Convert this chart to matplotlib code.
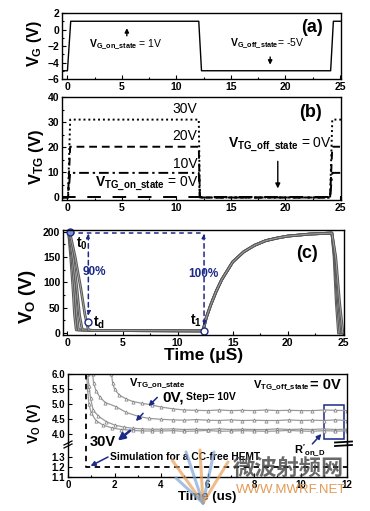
import matplotlib
matplotlib.use('Agg')
import matplotlib.pyplot as plt
from matplotlib.lines import Line2D
from matplotlib.patches import Rectangle
from matplotlib.ticker import MultipleLocator, FixedLocator

# ---- data ----
# (a) gate drive
t_vg = [-0.5, 0.0, 0.3, 12.05, 12.3, 24.15, 24.4, 25.1]
vg = [-5, -5, 1, 1, -5, -5, 1, 1]

# (b) top-gate drive for the four steps
t_vtg = [-0.5, 0.05, 0.25, 12.05, 12.15, 24.1, 24.3, 25.1]
vtg_30 = [0, 0, 31, 31, 0, 0, 31, 31]
vtg_20 = [0, 0, 20.2, 20.2, 0, 0, 20.2, 20.2]
vtg_10 = [0, 0, 9.8, 9.8, 0, 0, 9.8, 9.8]
vtg_0 = [0, 0, 0, 0, 0, 0, 0, 0]

# (c) output voltage: turn-off edges per step, common turn-on, final edges
fall_v = [200, 150, 90, 35, 6]
fall_t = {
    '30V': [0.1, 0.3, 0.5, 0.65, 0.8],
    '20V': [0.1, 0.4, 0.65, 0.85, 1.0],
    '10V': [0.15, 0.5, 0.85, 1.1, 1.35],
    '0V': [0.2, 0.7, 1.2, 1.6, 1.9],
}
t_flat = [2.3, 12.3]
v_flat = [5, 4]
t_rise = [12.6, 13.0, 13.5, 14.0, 15.0, 16.0, 17.0, 18.0, 19.0, 20.0, 21.0, 22.0, 23.0, 24.0]
v_rise = [30, 55, 82, 105, 140, 160, 173, 182, 187, 191, 193, 195, 196, 197]
end_v = [150, 60, 0]
end_t = {
    '30V': [24.2, 24.4, 24.6],
    '20V': [24.25, 24.5, 24.75],
    '10V': [24.3, 24.6, 24.9],
    '0V': [24.35, 24.7, 25.0],
}

# (d) zoom of the on-state output voltage
d_t_0 = [1.87, 1.92, 2.0, 2.2, 2.5, 2.8, 3.2, 3.6, 4.0, 4.5, 5.0, 5.5, 6.0, 6.5, 7.0,
         7.5, 8.0, 8.5, 9.0, 9.5, 10.0, 10.5, 11.0, 11.5, 12.0]
d_v_0 = [6.0, 5.7, 5.5, 5.3, 5.17, 5.08, 5.02, 4.97, 4.9, 4.84, 4.8, 4.79, 4.78, 4.8, 4.78,
         4.79, 4.78, 4.8, 4.78, 4.79, 4.78, 4.78, 4.8, 4.79, 4.78]
d_t_10 = [1.06, 1.1, 1.2, 1.36, 1.6, 2.07, 2.5, 3.06, 3.5, 4.0, 4.5, 5.0, 5.5, 6.0, 6.5,
          7.0, 7.5, 8.0, 8.5, 9.0, 9.5, 10.0, 10.5, 11.0, 11.5, 12.0]
d_v_10 = [6.0, 5.7, 5.45, 5.24, 5.05, 4.91, 4.72, 4.58, 4.52, 4.49, 4.47, 4.46, 4.48, 4.46,
          4.45, 4.47, 4.45, 4.46, 4.45, 4.45, 4.47, 4.45, 4.46, 4.45, 4.47, 4.45]
d_t_20 = [0.85, 0.9, 0.97, 1.08, 1.3, 1.65, 2.0, 2.4, 2.78, 3.2, 3.6, 4.0, 4.5, 5.0, 5.5,
          6.0, 6.5, 7.0, 7.5, 8.0, 8.5, 9.0, 9.5, 10.0, 10.5, 11.0, 11.5, 12.0]
d_v_20 = [6.0, 5.6, 5.2, 4.8, 4.6, 4.41, 4.3, 4.23, 4.19, 4.17, 4.16, 4.16, 4.17, 4.15,
          4.16, 4.15, 4.17, 4.15, 4.16, 4.15, 4.15, 4.17, 4.15, 4.16, 4.15, 4.17, 4.15, 4.16]
d_t_30 = [0.8, 0.84, 0.9, 1.0, 1.2, 1.5, 1.9, 2.3, 2.8, 3.2, 3.6, 4.0, 4.5, 5.0, 5.5,
          6.0, 6.5, 7.0, 7.5, 8.0, 8.5, 9.0, 9.5, 10.0, 10.5, 11.0, 11.5, 12.0]
d_v_30 = [6.0, 5.5, 5.0, 4.7, 4.45, 4.3, 4.2, 4.15, 4.12, 4.1, 4.1, 4.1, 4.11, 4.09, 4.1,
          4.12, 4.09, 4.1, 4.11, 4.1, 4.09, 4.1, 4.12, 4.1, 4.09, 4.11, 4.1, 4.1]
sim_t = [0.78, 0.78, 12.0]
sim_v = [6.0, 1.2, 1.2]
d_low_ticks = [1.1, 1.2, 1.3]

# marked points in (c)
t0_pt = (0.2, 199)
td_pt = (1.9, 22)
t1_pt = (12.4, 3)

NAVY = '#1c2a88'

plt.rcParams['font.family'] = ['Liberation Sans', 'DejaVu Sans']
plt.rcParams['font.weight'] = 'bold'
plt.rcParams['mathtext.fontset'] = 'custom'
plt.rcParams['mathtext.rm'] = 'Liberation Sans'
plt.rcParams['mathtext.it'] = 'Liberation Sans'
plt.rcParams['mathtext.bf'] = 'Liberation Sans:bold'
plt.rcParams['axes.linewidth'] = 1.0

W, H = 370, 511
fig = plt.figure(figsize=(W / 100, H / 100), dpi=100)


def px_axes(l, t, r, b):
    return fig.add_axes([l / W, 1 - b / H, (r - l) / W, (b - t) / H])


def style(ax, size=7.5):
    ax.tick_params(which='both', direction='in', labelsize=size, pad=2, width=0.8)
    ax.tick_params(which='major', length=3)
    ax.tick_params(which='minor', length=1.5)
    for lab in ax.get_xticklabels() + ax.get_yticklabels():
        lab.set_fontweight('bold')


def ylab(x, y, s, size):
    fig.text(x / W, 1 - y / H, s, rotation=90, ha='center', va='center',
             fontsize=size, fontweight='bold')


# ---------- (a) ----------
ax_a = px_axes(62, 13, 341, 79)
ax_a.plot(t_vg, vg, color='black', lw=1.0)
ax_a.set_xlim(-0.5, 25.1)
ax_a.set_ylim(-6, 2)
ax_a.xaxis.set_major_locator(MultipleLocator(5))
ax_a.xaxis.set_minor_locator(MultipleLocator(2.5))
ax_a.yaxis.set_major_locator(MultipleLocator(2))
ax_a.yaxis.set_minor_locator(MultipleLocator(1))
style(ax_a)
ax_a.text(2.0, -1.8, r'$\mathbf{V_{G\_on\_state}}$ = 1V', fontsize=7.5,
          fontweight='normal', va='center')
ax_a.annotate('', xy=(5.45, 0.5), xytext=(5.45, -1.1),
              arrowprops=dict(arrowstyle='-|>', color='black', lw=1, mutation_scale=6))
ax_a.text(14.9, -1.65, r'$\mathbf{V_{G\_off\_state}}$= -5V', fontsize=7.5,
          fontweight='normal', va='center')
ax_a.annotate('', xy=(18.6, -4.6), xytext=(18.6, -3.0),
              arrowprops=dict(arrowstyle='-|>', color='black', lw=1, mutation_scale=6))
ax_a.text(22.4, 0.2, '(a)', fontsize=13, fontweight='bold', ha='center', va='center')
ylab(35, 44, r'$\mathbf{V_G}$ (V)', 11.5)

# ---------- (b) ----------
ax_b = px_axes(62, 97, 341, 200)
ax_b.plot(t_vtg, vtg_30, color='black', lw=1.4, ls=(0, (1, 1.5)))
ax_b.plot(t_vtg, vtg_20, color='black', lw=1.4, ls=(0, (4, 2.5)))
ax_b.plot(t_vtg, vtg_10, color='black', lw=1.4, ls=(0, (5, 2, 1.2, 2)))
ax_b.plot(t_vtg, vtg_0, color='black', lw=1.4, ls=(0, (7, 6)))
ax_b.set_xlim(-0.5, 25.1)
ax_b.set_ylim(-1, 40)
ax_b.xaxis.set_major_locator(MultipleLocator(5))
ax_b.xaxis.set_minor_locator(MultipleLocator(2.5))
ax_b.yaxis.set_major_locator(MultipleLocator(10))
ax_b.yaxis.set_minor_locator(MultipleLocator(5))
style(ax_b)
for lvl, y in (('30V', 35.3), ('20V', 24.4), ('10V', 13.3)):
    ax_b.text(11.9, y, lvl, fontsize=10, fontweight='normal', ha='right', va='center')
ax_b.text(2.5, 4.4, r'$\mathrm{V_{TG\_on\_state}}$ = 0V', fontsize=10,
          fontweight='normal', va='baseline')
ax_b.text(14.7, 19.9, r'$\mathrm{V_{TG\_off\_state}}$ = 0V', fontsize=10,
          fontweight='normal', va='baseline')
ax_b.annotate('', xy=(19.3, 2.5), xytext=(19.3, 15.5),
              arrowprops=dict(arrowstyle='-|>', color='black', lw=1, mutation_scale=7))
ax_b.text(22.3, 33.7, '(b)', fontsize=13, fontweight='bold', ha='center', va='center')
ylab(36, 157, r'$\mathbf{V_{TG}}$ (V)', 12)

# ---------- (c) ----------
ax_c = px_axes(63, 230, 344, 335)
for key in ('30V', '20V', '10V', '0V'):
    tt = fall_t[key] + t_flat + t_rise + end_t[key]
    vv = fall_v + v_flat + v_rise + end_v
    ax_c.plot(tt, vv, color='#5a5a5a', lw=2.0, solid_joinstyle='round')
    ax_c.plot(tt, vv, color='#b5b5b5', lw=0.5)
ax_c.set_xlim(-0.4, 25.1)
ax_c.set_ylim(-4, 203)
ax_c.xaxis.set_major_locator(MultipleLocator(5))
ax_c.xaxis.set_minor_locator(MultipleLocator(2.5))
ax_c.yaxis.set_major_locator(MultipleLocator(50))
ax_c.yaxis.set_minor_locator(MultipleLocator(25))
style(ax_c)
ax_c.plot([t0_pt[0], t1_pt[0]], [198, 198], color=NAVY, lw=1.1, ls=(0, (3, 2.5)))
dash_arrow = dict(arrowstyle='<|-|>', color=NAVY, lw=1.1, ls=(0, (3, 2.5)),
                  mutation_scale=6, shrinkA=0, shrinkB=0)
ax_c.annotate('', xy=(td_pt[0], 34), xytext=(td_pt[0], 196), arrowprops=dash_arrow)
ax_c.annotate('', xy=(t1_pt[0], 14), xytext=(t1_pt[0], 196), arrowprops=dash_arrow)
ax_c.plot(*t0_pt, 'o', ms=5, mfc='#7f8fd6', mec=NAVY, mew=1.0, clip_on=False)
ax_c.plot(*td_pt, 'o', ms=5, mfc='white', mec=NAVY, mew=1.0)
ax_c.plot(*t1_pt, 'o', ms=5, mfc='white', mec=NAVY, mew=1.0, clip_on=False)
ax_c.text(0.75, 176, r'$\mathbf{t_0}$', fontsize=10, va='center')
ax_c.text(2.3, 21, r'$\mathbf{t_d}$', fontsize=10, va='center')
ax_c.text(11.1, 24, r'$\mathbf{t_1}$', fontsize=10, va='center')
ax_c.text(1.35, 120, '90%', fontsize=8.5, color=NAVY, fontweight='bold', va='center')
ax_c.text(12.35, 117, '100%', fontsize=8.5, color=NAVY, fontweight='bold',
          ha='center', va='center')
ax_c.text(21.7, 157, '(c)', fontsize=13, fontweight='bold', ha='center', va='center')
ax_c.set_xlabel('Time (\u03bcS)', fontsize=12.5, fontweight='bold', labelpad=0)
ylab(27, 297, r'$\mathbf{V_O}$ (V)', 13.5)

# ---------- (d) broken axis ----------
ax_d1 = px_axes(68, 374, 347, 443)
ax_d2 = px_axes(68, 443, 347, 477)
curve_kw = dict(color='#9a9a9a', lw=0.9, marker='^', ms=2.3, mfc='white',
                mec='#7a7a7a', mew=0.5)
for ax in (ax_d1, ax_d2):
    ax.patch.set_visible(False)
    ax.plot(d_t_0, d_v_0, **curve_kw)
    ax.plot(d_t_10, d_v_10, **curve_kw)
    ax.plot(d_t_20, d_v_20, **curve_kw)
    ax.plot(d_t_30, d_v_30, **curve_kw)
    ax.plot(sim_t, sim_v, color='black', lw=1.3, ls=(0, (3, 2.5)))
    ax.set_xlim(0, 12)
    ax.xaxis.set_major_locator(MultipleLocator(2))
    ax.xaxis.set_minor_locator(MultipleLocator(1))
ax_d1.set_ylim(3.7, 6.0)
ax_d1.yaxis.set_major_locator(MultipleLocator(0.5))
ax_d1.yaxis.set_major_formatter('{x:.1f}')
ax_d1.spines['bottom'].set_visible(False)
ax_d2.set_ylim(1.1, 1.44)
ax_d2.yaxis.set_major_locator(FixedLocator(d_low_ticks))
ax_d2.yaxis.set_major_formatter('{x:.1f}')
ax_d2.spines['top'].set_visible(False)
style(ax_d1, 7)
style(ax_d2, 7)
ax_d1.tick_params(axis='x', which='both', bottom=False, labelbottom=False)

ax_d1.text(2.64, 5.7, r'$\mathbf{V_{TG\_on\_state}}$', fontsize=8, va='center')
ax_d1.text(4.05, 5.22, '0V,', fontsize=11, fontweight='bold', va='center')
ax_d1.text(5.06, 5.22, 'Step= 10V', fontsize=7.5, fontweight='bold', va='center')
ax_d1.text(7.96, 5.63, r'$\mathbf{V_{TG\_off\_state}}$', fontsize=8, va='center')
ax_d1.text(10.4, 5.65, '= 0V', fontsize=10.5, fontweight='bold', va='center')
ax_d1.text(0.94, 3.74, '30V', fontsize=10.5, fontweight='bold', va='center',
           clip_on=False, zorder=5)
arrow_kw = dict(arrowstyle='-|>', color=NAVY, lw=1.1, mutation_scale=7,
                shrinkA=0, shrinkB=0)
ax_d1.annotate('', xy=(3.46, 4.93), xytext=(3.84, 5.22), arrowprops=arrow_kw)
ax_d1.annotate('', xy=(2.92, 4.43), xytext=(3.23, 4.69), arrowprops=arrow_kw)
ax_d1.annotate('', xy=(2.14, 3.78), xytext=(2.67, 4.11),
               arrowprops=dict(arrow_kw, lw=1.8, mutation_scale=10))
ax_d1.annotate('', xy=(10.9, 4.0), xytext=(10.51, 3.67), arrowprops=arrow_kw,
               annotation_clip=False)
ax_d1.add_patch(Rectangle((11.0, 3.82), 0.86, 1.15, fill=False, ec=NAVY, lw=1.1))
ax_d2.text(9.74, 1.37, r"$\mathbf{R'_{on\_D}}$", fontsize=8, va='center')
ax_d2.text(1.79, 1.30, 'Simulation for a CC-free HEMT', fontsize=7.4,
           fontweight='bold', va='center')
ax_d2.annotate('', xy=(0.97, 1.21), xytext=(1.72, 1.30), arrowprops=arrow_kw)
ax_d2.set_xlabel('Time (us)', fontsize=9.5, fontweight='bold', labelpad=1)
ylab(34, 424, r'$\mathbf{V_O}$ (V)', 10)

# break marks on the spines
for (x0, y0, x1, y1, lw) in ((64, 445, 72, 441, 0.9), (64, 448, 72, 444, 0.9),
                             (335, 442.5, 352, 441.5, 1.3), (335, 446, 352, 445, 1.3)):
    fig.add_artist(Line2D([x0 / W, x1 / W], [1 - y0 / H, 1 - y1 / H], color='black',
                          lw=lw, transform=fig.transFigure))

# source watermark (logo strokes + site name)
for (x0, y0, x1, y1, c) in ((203, 503, 172, 460, '#e9a25a'), (203, 503, 186, 452, '#7fa6d6'),
                            (203, 503, 200, 450, '#e9a25a'), (203, 503, 214, 452, '#7fa6d6'),
                            (203, 503, 228, 462, '#e9a25a'), (203, 503, 176, 478, '#7fa6d6')):
    fig.add_artist(Line2D([x0 / W, x1 / W], [1 - y0 / H, 1 - y1 / H], color=c,
                          lw=2.2, alpha=0.7, solid_capstyle='round',
                          transform=fig.transFigure))
fig.text(288 / W, 1 - 468 / H, '微波射频网', fontsize=16, color='#444444', alpha=0.8,
         ha='center', va='center', fontweight='bold',
         family=['Noto Sans CJK SC', 'DejaVu Sans'])
fig.text(291 / W, 1 - 490 / H, 'WWW.MWRF.NET', fontsize=9.5, color='#e39a55',
         ha='center', va='center', fontweight='normal')

fig.savefig('out.png', dpi=100)
